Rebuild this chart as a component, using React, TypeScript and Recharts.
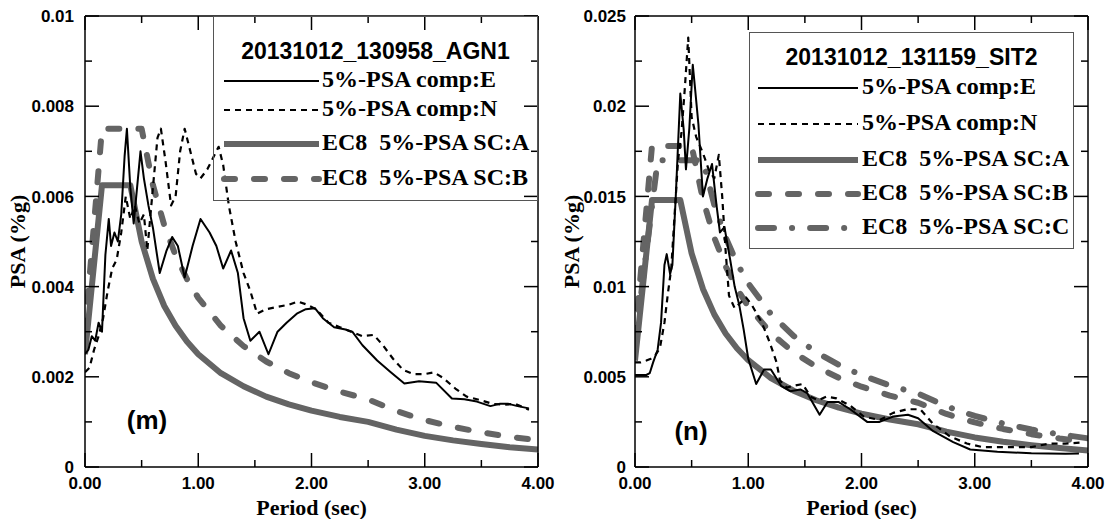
import React from 'react';
import { LineChart, Line, XAxis, YAxis, Legend } from 'recharts';

type Pair = [number, number];

// axis ticks
const PERIOD_TICKS = [0, 0.5, 1, 1.5, 2, 2.5, 3, 3.5, 4];
const PSA_TICKS_M = [0, 0.001, 0.002, 0.003, 0.004, 0.005, 0.006, 0.007, 0.008, 0.009, 0.01];
const PSA_TICKS_N = [0, 0.0025, 0.005, 0.0075, 0.01, 0.0125, 0.015, 0.0175, 0.02, 0.0225, 0.025];

const NAMES: Record<string, string> = {
  E: '5%-PSA comp:E',
  N: '5%-PSA comp:N',
  A: 'EC8  5%-PSA SC:A',
  B: 'EC8  5%-PSA SC:B',
  C: 'EC8  5%-PSA SC:C',
};

// (m) 20131012_130958_AGN1  [period sec, PSA]
const M_COMP_E: Pair[] = [
  [0, 0.0025], [0.03, 0.0026], [0.06, 0.0029], [0.09, 0.0028], [0.12, 0.0032], [0.15, 0.003],
  [0.18, 0.0047], [0.21, 0.0055], [0.23, 0.0049], [0.26, 0.0052], [0.29, 0.005], [0.32, 0.0056],
  [0.35, 0.0069], [0.37, 0.0075], [0.4, 0.0062], [0.43, 0.0054], [0.46, 0.0062], [0.49, 0.007],
  [0.52, 0.0064], [0.56, 0.0058], [0.6, 0.0053], [0.66, 0.0043], [0.72, 0.0048], [0.77, 0.0051],
  [0.82, 0.0049], [0.88, 0.0042], [0.95, 0.0049], [1.02, 0.0055], [1.1, 0.0052], [1.16, 0.0049],
  [1.22, 0.0044], [1.29, 0.0048], [1.35, 0.0043], [1.4, 0.0033], [1.46, 0.0028], [1.54, 0.003],
  [1.62, 0.0025], [1.7, 0.003], [1.78, 0.0032], [1.87, 0.0034], [1.95, 0.0035], [2.03, 0.00352],
  [2.1, 0.0033], [2.2, 0.0031], [2.3, 0.00305], [2.36, 0.003], [2.45, 0.0027], [2.58, 0.00236],
  [2.7, 0.0021], [2.82, 0.00185], [2.95, 0.0019], [3.1, 0.00187], [3.24, 0.00152], [3.35, 0.0015],
  [3.46, 0.00145], [3.58, 0.00135], [3.66, 0.0014], [3.74, 0.0014], [3.82, 0.00135], [3.92, 0.0013],
];
const M_COMP_N: Pair[] = [
  [0, 0.0021], [0.04, 0.0022], [0.08, 0.0026], [0.12, 0.0029], [0.16, 0.0033], [0.2, 0.0039],
  [0.24, 0.0044], [0.28, 0.0046], [0.32, 0.0052], [0.36, 0.006], [0.4, 0.0055], [0.44, 0.0058],
  [0.48, 0.0054], [0.52, 0.0056], [0.55, 0.0048], [0.6, 0.0062], [0.64, 0.0073], [0.67, 0.0075],
  [0.71, 0.0068], [0.76, 0.0058], [0.8, 0.006], [0.84, 0.007], [0.88, 0.0075], [0.93, 0.007],
  [0.98, 0.0065], [1.02, 0.0064], [1.08, 0.0066], [1.14, 0.0069], [1.18, 0.0071], [1.22, 0.0067],
  [1.27, 0.0058], [1.33, 0.005], [1.4, 0.0043], [1.46, 0.0039], [1.52, 0.0034], [1.6, 0.0035],
  [1.7, 0.00355], [1.8, 0.0036], [1.88, 0.00367], [1.96, 0.0036], [2.04, 0.0035], [2.15, 0.0032],
  [2.25, 0.0031], [2.35, 0.003], [2.45, 0.0029], [2.55, 0.00293], [2.63, 0.0027], [2.72, 0.0024],
  [2.81, 0.00215], [2.9, 0.00206], [3.0, 0.00206], [3.08, 0.0021], [3.16, 0.00198], [3.27, 0.00174],
  [3.37, 0.00156], [3.48, 0.00149], [3.6, 0.0014], [3.7, 0.00138], [3.8, 0.0014], [3.92, 0.00127],
];
const M_EC8_A: Pair[] = [
  [0, 0.0025], [0.15, 0.00625], [0.4, 0.00625], [0.5, 0.005], [0.6, 0.00417], [0.7, 0.00357],
  [0.8, 0.00313], [0.9, 0.00278], [1.0, 0.0025], [1.2, 0.00208], [1.4, 0.00179], [1.6, 0.00156],
  [1.8, 0.00139], [2.0, 0.00125], [2.25, 0.00111], [2.5, 0.001], [2.75, 0.00083], [3.0, 0.00069],
  [3.25, 0.00059], [3.5, 0.00051], [3.75, 0.00044], [4.0, 0.00039],
];
const M_EC8_B: Pair[] = [
  [0, 0.003], [0.15, 0.0075], [0.5, 0.0075], [0.6, 0.00625], [0.7, 0.00536], [0.8, 0.00469],
  [0.9, 0.00417], [1.0, 0.00375], [1.2, 0.00313], [1.4, 0.00268], [1.6, 0.00234], [1.8, 0.00208],
  [2.0, 0.00188], [2.25, 0.00167], [2.5, 0.0015], [2.75, 0.00124], [3.0, 0.00104], [3.25, 0.00089],
  [3.5, 0.00077], [3.75, 0.00067], [4.0, 0.00059],
];

// (n) 20131012_131159_SIT2
const N_COMP_E: Pair[] = [
  [0, 0.0051], [0.05, 0.0051], [0.1, 0.0051], [0.13, 0.0052], [0.16, 0.0058], [0.2, 0.0065],
  [0.23, 0.008], [0.26, 0.0112], [0.28, 0.0118], [0.31, 0.0107], [0.33, 0.0112], [0.36, 0.015],
  [0.4, 0.0207], [0.43, 0.0187], [0.45, 0.0165], [0.48, 0.0188], [0.51, 0.0223], [0.53, 0.021],
  [0.56, 0.019], [0.6, 0.015], [0.64, 0.016], [0.68, 0.0168], [0.72, 0.0145], [0.75, 0.013],
  [0.79, 0.0133], [0.84, 0.0115], [0.88, 0.01], [0.92, 0.009], [0.96, 0.0076], [1.0, 0.006],
  [1.07, 0.0046], [1.14, 0.0054], [1.2, 0.0054], [1.29, 0.0045], [1.37, 0.0042], [1.46, 0.0043],
  [1.52, 0.0041], [1.63, 0.0029], [1.7, 0.0036], [1.8, 0.0036], [1.9, 0.0032], [2.05, 0.0025],
  [2.16, 0.0025], [2.28, 0.0028], [2.41, 0.0029], [2.5, 0.0027], [2.63, 0.002], [2.81, 0.00138],
  [2.96, 0.00097], [3.2, 0.00085], [3.5, 0.00076], [3.8, 0.00073], [3.92, 0.00075],
];
const N_COMP_N: Pair[] = [
  [0, 0.0058], [0.05, 0.0058], [0.1, 0.0059], [0.14, 0.006], [0.18, 0.0062], [0.22, 0.0066],
  [0.26, 0.008], [0.29, 0.0096], [0.32, 0.011], [0.35, 0.014], [0.38, 0.017], [0.41, 0.0185],
  [0.44, 0.021], [0.47, 0.0238], [0.5, 0.0194], [0.54, 0.0183], [0.6, 0.0174], [0.65, 0.0165],
  [0.7, 0.016], [0.74, 0.0173], [0.77, 0.015], [0.8, 0.012], [0.83, 0.0095], [0.88, 0.0088],
  [0.93, 0.0091], [0.98, 0.0094], [1.03, 0.009], [1.12, 0.008], [1.19, 0.0069], [1.25, 0.0058],
  [1.28, 0.0048], [1.34, 0.0044], [1.4, 0.0045], [1.48, 0.0046], [1.55, 0.0039], [1.62, 0.0037],
  [1.69, 0.0039], [1.78, 0.0038], [1.9, 0.0034], [2.02, 0.0028], [2.16, 0.0026], [2.28, 0.003],
  [2.4, 0.0032], [2.52, 0.0032], [2.63, 0.0024], [2.78, 0.0017], [2.93, 0.0013], [3.07, 0.0011],
  [3.22, 0.0011], [3.5, 0.0011], [3.66, 0.0013], [3.8, 0.0013], [3.93, 0.00135],
];
const N_EC8_A: Pair[] = [
  [0, 0.0059], [0.15, 0.0148], [0.4, 0.0148], [0.5, 0.01184], [0.6, 0.00987], [0.7, 0.00846],
  [0.8, 0.0074], [0.9, 0.00658], [1.0, 0.00592], [1.2, 0.00493], [1.4, 0.00423], [1.6, 0.0037],
  [1.8, 0.00329], [2.0, 0.00296], [2.25, 0.00263], [2.5, 0.00237], [2.75, 0.00196], [3.0, 0.00164],
  [3.25, 0.0014], [3.5, 0.00121], [3.75, 0.00105], [4.0, 0.00092],
];
const N_EC8_B: Pair[] = [
  [0, 0.0071], [0.15, 0.0178], [0.5, 0.0178], [0.6, 0.01483], [0.7, 0.01271], [0.8, 0.01113],
  [0.9, 0.00989], [1.0, 0.0089], [1.2, 0.00742], [1.4, 0.00636], [1.6, 0.00556], [1.8, 0.00494],
  [2.0, 0.00445], [2.25, 0.00396], [2.5, 0.00356], [2.75, 0.00294], [3.0, 0.00247], [3.25, 0.00211],
  [3.5, 0.00182], [3.75, 0.00158], [4.0, 0.00139],
];
const N_EC8_C: Pair[] = [
  [0, 0.0068], [0.2, 0.017], [0.6, 0.017], [0.7, 0.01454], [0.8, 0.01273], [0.9, 0.01131],
  [1.0, 0.01018], [1.2, 0.00848], [1.4, 0.00727], [1.6, 0.00636], [1.8, 0.00566], [2.0, 0.00509],
  [2.25, 0.00452], [2.5, 0.00407], [2.75, 0.00336], [3.0, 0.00283], [3.25, 0.00241], [3.5, 0.00208],
  [3.75, 0.00181], [4.0, 0.00159],
];

const GREY = '#646464';
const SANS = '"Liberation Sans", Arial, sans-serif';
const SERIF = '"Liberation Serif", "Times New Roman", serif';

const LINE_STYLE: Record<string, any> = {
  E: { stroke: '#000', strokeWidth: 2 },
  N: { stroke: '#000', strokeWidth: 2.2, strokeDasharray: '6 5' },
  A: { stroke: GREY, strokeWidth: 6 },
  B: { stroke: GREY, strokeWidth: 6, strokeDasharray: '11 19', strokeLinecap: 'round' },
  C: { stroke: GREY, strokeWidth: 6, strokeDasharray: '16 18 0.1 18', strokeLinecap: 'round' },
};

const toRows = (pairs: Pair[]) => pairs.map(([t, v]) => ({ t, v }));

const CH_H = 519;
const PLOT_TOP = 16;
const PLOT_BOTTOM = 467;
const PLOT_W = 453;
const Y_AXIS_W = 85;
const MAJOR = 14;
const MINOR = 7;

const isWhole = (v: number) => Math.abs(v - Math.round(v)) < 1e-6;

const BottomTick = (p: any) => {
  const v = p.payload.value;
  const major = isWhole(v);
  return (
    <g>
      <line x1={p.x} x2={p.x} y1={p.y} y2={p.y - (major ? MAJOR : MINOR)} stroke="#000" strokeWidth={1.5} />
      {major && (
        <text x={p.x} y={p.y + 22} textAnchor="middle" fontFamily={SANS} fontWeight="bold" fontSize={17} fill="#000">
          {v.toFixed(2)}
        </text>
      )}
    </g>
  );
};

const TopTick = (p: any) => {
  const major = isWhole(p.payload.value);
  return <line x1={p.x} x2={p.x} y1={p.y} y2={p.y + (major ? MAJOR : MINOR)} stroke="#000" strokeWidth={1.5} />;
};

const makeLeftTick = (step: number, gap: number) => (p: any) => {
  const v = p.payload.value;
  const major = Math.round(v / step) % 2 === 0;
  return (
    <g>
      <line x1={p.x} x2={p.x + (major ? MAJOR : MINOR)} y1={p.y} y2={p.y} stroke="#000" strokeWidth={1.5} />
      {major && (
        <text x={p.x - gap} y={p.y} dy="0.36em" textAnchor="end" fontFamily={SANS} fontWeight="bold" fontSize={17} fill="#000">
          {Number(v.toFixed(4)).toString()}
        </text>
      )}
    </g>
  );
};

const makeRightTick = (step: number) => (p: any) => {
  const major = Math.round(p.payload.value / step) % 2 === 0;
  return <line x1={p.x} x2={p.x - (major ? MAJOR : MINOR)} y1={p.y} y2={p.y} stroke="#000" strokeWidth={1.5} />;
};

interface LegendSpec {
  left: number;
  top: number;
  w: number;
  h: number;
  title: string;
  titleY: number;
  rowY: number[];
  sampleX0: number;
  sampleX1: number;
  textX: number;
}

const LegendBox = ({ spec, keys }: { spec: LegendSpec; keys: string[] }) => (
  <div
    style={{
      position: 'relative',
      width: spec.w,
      height: spec.h,
      border: '1.5px solid #555',
      boxSizing: 'border-box',
      color: '#000',
    }}
  >
    <div
      style={{
        position: 'absolute',
        left: 0,
        right: 0,
        top: spec.titleY - 15,
        height: 30,
        lineHeight: '30px',
        textAlign: 'center',
        font: `bold 23px ${SANS}`,
        whiteSpace: 'nowrap',
      }}
    >
      {spec.title}
    </div>
    {keys.map((k, i) => (
      <div key={k} style={{ position: 'absolute', left: 0, top: spec.rowY[i] - 15, height: 30, width: '100%' }}>
        <svg
          style={{ position: 'absolute', left: spec.sampleX0 - 4, top: 9 }}
          width={spec.sampleX1 - spec.sampleX0 + 8}
          height={12}
        >
          <line x1={4} x2={spec.sampleX1 - spec.sampleX0 + 4} y1={6} y2={6} {...LINE_STYLE[k]} />
        </svg>
        <span
          style={{
            position: 'absolute',
            left: spec.textX,
            top: 0,
            lineHeight: '30px',
            font: `bold 24px ${SERIF}`,
            whiteSpace: 'pre',
          }}
        >
          {NAMES[k]}
        </span>
      </div>
    ))}
  </div>
);

interface PanelProps {
  left: number;
  width: number;
  yMax: number;
  yTicks: number[];
  yStep: number;
  labelGap: number;
  yTitleX: number;
  tag: string;
  tagX: number;
  tagY: number;
  series: { key: string; data: Pair[] }[];
  legendKeys: string[];
  legend: LegendSpec;
}

const Panel = (props: PanelProps) => {
  const { left, width, yMax, yTicks, yStep, labelGap, yTitleX, tag, tagX, tagY, series, legendKeys, legend } = props;
  const margin = {
    top: PLOT_TOP - 1,
    right: width - Y_AXIS_W - PLOT_W - 1,
    bottom: CH_H - PLOT_BOTTOM - 30,
    left: 0,
  };
  const cy = (PLOT_TOP + PLOT_BOTTOM) / 2;
  const frame = { stroke: '#000', strokeWidth: 1.5 };
  return (
    <div style={{ position: 'absolute', left, top: 0, width, height: CH_H }}>
      <LineChart width={width} height={CH_H} margin={margin}>
        <XAxis
          xAxisId="b"
          type="number"
          dataKey="t"
          domain={[0, 4]}
          ticks={PERIOD_TICKS}
          interval={0}
          allowDataOverflow
          height={30}
          tickSize={0}
          tickMargin={0}
          axisLine={frame}
          tickLine={false}
          tick={BottomTick}
          label={{
            value: 'Period (sec)',
            position: 'bottom',
            offset: 2,
            fill: '#000',
            fontSize: 22,
            fontWeight: 'bold',
            fontFamily: SERIF,
          }}
        />
        <XAxis
          xAxisId="t"
          orientation="top"
          type="number"
          dataKey="t"
          domain={[0, 4]}
          ticks={PERIOD_TICKS}
          interval={0}
          allowDataOverflow
          height={1}
          tickSize={0}
          tickMargin={0}
          axisLine={frame}
          tickLine={false}
          tick={TopTick}
        />
        <YAxis
          yAxisId="l"
          type="number"
          domain={[0, yMax]}
          ticks={yTicks}
          interval={0}
          allowDataOverflow
          width={Y_AXIS_W}
          tickSize={0}
          tickMargin={0}
          axisLine={frame}
          tickLine={false}
          tick={makeLeftTick(yStep, labelGap)}
          label={{
            content: () => (
              <text
                x={yTitleX}
                y={cy}
                transform={`rotate(-90 ${yTitleX} ${cy})`}
                textAnchor="middle"
                dy="0.35em"
                fontFamily={SERIF}
                fontWeight="bold"
                fontSize={22}
                fill="#000"
              >
                PSA (%g)
              </text>
            ),
          }}
        />
        <YAxis
          yAxisId="r"
          orientation="right"
          type="number"
          domain={[0, yMax]}
          ticks={yTicks}
          interval={0}
          allowDataOverflow
          width={1}
          tickSize={0}
          tickMargin={0}
          axisLine={frame}
          tickLine={false}
          tick={makeRightTick(yStep)}
        />
        {series.map((s) => (
          <Line
            key={s.key}
            xAxisId="b"
            yAxisId="l"
            data={toRows(s.data)}
            dataKey="v"
            name={NAMES[s.key]}
            type="linear"
            dot={false}
            activeDot={false}
            isAnimationActive={false}
            strokeLinejoin="round"
            {...LINE_STYLE[s.key]}
          />
        ))}
        <Legend
          layout="horizontal"
          verticalAlign="middle"
          align="center"
          wrapperStyle={{ left: legend.left - left, top: legend.top, width: legend.w, height: legend.h }}
          content={() => <LegendBox spec={legend} keys={legendKeys} />}
        />
      </LineChart>
      <div
        style={{
          position: 'absolute',
          left: tagX - left,
          top: tagY,
          transform: 'translate(-50%, -50%)',
          font: `bold 26px ${SANS}`,
          color: '#000',
        }}
      >
        {tag}
      </div>
    </div>
  );
};

export default function App() {
  return (
    <div style={{ position: 'absolute', left: 0, top: 0, width: 1108, height: CH_H, background: '#fff' }}>
      <Panel
        left={0}
        width={560}
        yMax={0.01}
        yTicks={PSA_TICKS_M}
        yStep={0.001}
        labelGap={11}
        yTitleX={17}
        tag="(m)"
        tagX={147}
        tagY={420}
        series={[
          { key: 'A', data: M_EC8_A },
          { key: 'B', data: M_EC8_B },
          { key: 'N', data: M_COMP_N },
          { key: 'E', data: M_COMP_E },
        ]}
        legendKeys={['E', 'N', 'A', 'B']}
        legend={{
          left: 213,
          top: 16,
          w: 325,
          h: 185,
          title: '20131012_130958_AGN1',
          titleY: 36,
          rowY: [64, 93, 127, 162],
          sampleX0: 10,
          sampleX1: 105,
          textX: 108,
        }}
      />
      <Panel
        left={550}
        width={558}
        yMax={0.025}
        yTicks={PSA_TICKS_N}
        yStep={0.0025}
        labelGap={9}
        yTitleX={21}
        tag="(n)"
        tagX={691}
        tagY={431}
        series={[
          { key: 'A', data: N_EC8_A },
          { key: 'B', data: N_EC8_B },
          { key: 'C', data: N_EC8_C },
          { key: 'N', data: N_COMP_N },
          { key: 'E', data: N_COMP_E },
        ]}
        legendKeys={['E', 'N', 'A', 'B', 'C']}
        legend={{
          left: 749,
          top: 32,
          w: 325,
          h: 217,
          title: '20131012_131159_SIT2',
          titleY: 26,
          rowY: [55, 91, 127, 161, 195],
          sampleX0: 8,
          sampleX1: 108,
          textX: 112,
        }}
      />
    </div>
  );
}
